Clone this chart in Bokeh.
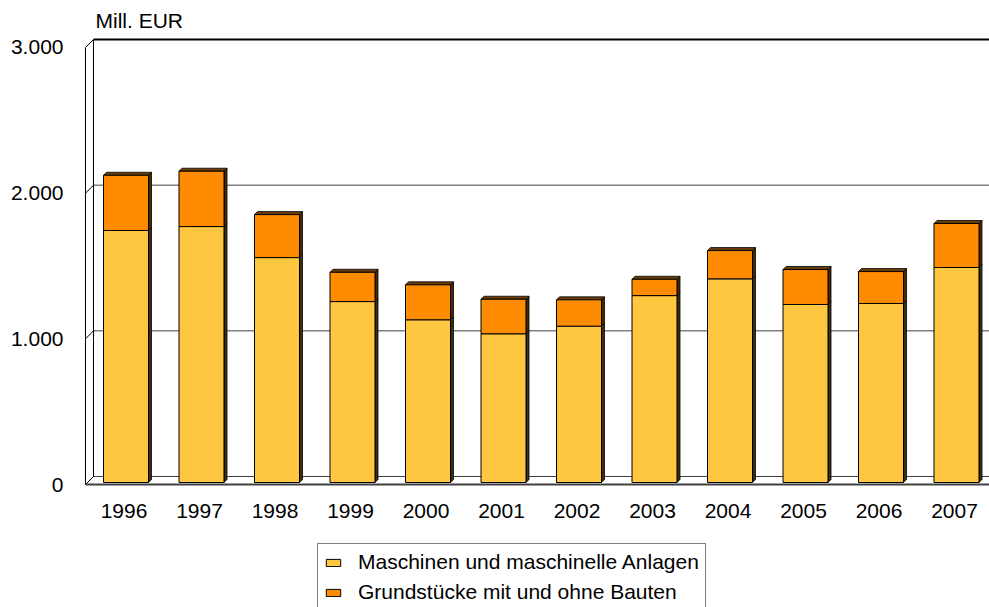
from bokeh.plotting import figure
from bokeh.models import Range1d, FixedTicker, Legend, LegendItem, Label, ColumnDataSource
from bokeh.embed import file_html
from bokeh.resources import INLINE

# ---------------- data ----------------
years = ["1996", "1997", "1998", "1999", "2000", "2001",
         "2002", "2003", "2004", "2005", "2006", "2007"]
maschinen = [1730, 1757, 1544, 1242, 1117, 1021, 1073, 1283, 1398, 1222, 1229, 1476]
grundstuecke = [379, 380, 295, 201, 240, 237, 181, 112, 194, 240, 219, 302]
y_ticks = [0, 1000, 2000, 3000]
y_tick_labels = ["0", "1.000", "2.000", "3.000"]
unit_label = "Mill. EUR"
series_names = ["Maschinen und maschinelle Anlagen", "Grundstücke mit und ohne Bauten"]

# ---------------- layout constants ----------------
W, H = 989, 607
FL, FR, FT, FB = 85, 989, 0, 607          # frame edges (canvas px)
PPX = 75.5                                # px per category
PPY = 0.14567                             # px per unit
ZERO_Y = 484                              # canvas y of value 0 (front plane)
FIRST_X = 123.5                           # canvas x of first category (front plane)
X0 = (FL - FIRST_X) / PPX
X1 = (FR - FIRST_X) / PPX
Y0 = -(FB - ZERO_Y) / PPY
Y1 = (ZERO_Y - FT) / PPY


def dx(px):
    return px / PPX


def dy(px):
    return px / PPY


FONT = "Liberation Sans"
FS = "21px"
C_MASCH = "#FFC640"
C_GRUND = "#FF8C00"
BACK = 8      # wall depth in px
BOFF = 2      # bar offset from front plane
BD = 3        # bar depth
BW = dx(45)   # bar width

p = figure(width=W, height=H, output_backend="svg", toolbar_location=None,
           x_range=Range1d(X0, X1), y_range=Range1d(Y0, Y1),
           min_border_left=FL, min_border_right=W - FR,
           min_border_top=FT, min_border_bottom=H - FB)
p.outline_line_color = None
p.xgrid.visible = False
p.ygrid.visible = False
p.background_fill_color = "white"
p.border_fill_color = "white"

# ---------------- axes ----------------
ya = p.yaxis[0]
ya.ticker = FixedTicker(ticks=y_ticks)
ya.major_label_overrides = {t: l for t, l in zip(y_ticks, y_tick_labels)}
ya.bounds = (y_ticks[0], y_ticks[-1])
ya.axis_line_color = "black"
ya.axis_line_width = 1
ya.major_tick_line_color = None
ya.minor_tick_line_color = None
ya.major_label_standoff = 16
ya.major_label_text_font = FONT
ya.major_label_text_font_size = FS
ya.major_label_text_color = "black"

xa = p.xaxis[0]
xa.fixed_location = 0
xa.ticker = FixedTicker(ticks=list(range(len(years))))
xa.major_label_overrides = {i: y for i, y in enumerate(years)}
xa.axis_line_color = None
xa.major_tick_line_color = None
xa.minor_tick_line_color = None
xa.major_label_standoff = 13
xa.major_label_text_font = FONT
xa.major_label_text_font_size = FS
xa.major_label_text_color = "black"

# ---------------- walls ----------------
bx = X0 + dx(BACK)
by = dy(BACK)
for t in y_ticks:
    if t == y_ticks[0]:
        col, lw = "#404040", 1
    elif t == y_ticks[-1]:
        col, lw = "black", 2
    else:
        col, lw = "#808080", 1.5
    p.line([bx, X1], [t + by, t + by], line_color=col, line_width=lw)
    p.line([X0, bx], [t, t + by], line_color="black", line_width=1)
p.line([bx, bx], [y_ticks[0] + by, y_ticks[-1] + by], line_color="black", line_width=1)
p.line([X0, X1], [y_ticks[0], y_ticks[0]], line_color="#404040", line_width=2)

# ---------------- bars ----------------
n = len(years)
xc = [i + dx(BOFF) for i in range(n)]
base = dy(BOFF)
m_top = [base + m for m in maschinen]
g_top = [base + m + g for m, g in zip(maschinen, grundstuecke)]

ddx, ddy = dx(BD), dy(BD)
side_m_xs, side_m_ys, side_g_xs, side_g_ys, top_xs, top_ys = [], [], [], [], [], []
for i in range(n):
    xr = xc[i] + BW / 2
    xl = xc[i] - BW / 2
    side_m_xs.append([xr, xr + ddx, xr + ddx, xr])
    side_m_ys.append([base, base + ddy, m_top[i] + ddy, m_top[i]])
    side_g_xs.append([xr, xr + ddx, xr + ddx, xr])
    side_g_ys.append([m_top[i], m_top[i] + ddy, g_top[i] + ddy, g_top[i]])
    top_xs.append([xl, xr, xr + ddx, xl + ddx])
    top_ys.append([g_top[i], g_top[i], g_top[i] + ddy, g_top[i] + ddy])

p.patches(side_m_xs, side_m_ys, fill_color="#3a2f10", line_color="black", line_width=0.8)
p.patches(side_g_xs, side_g_ys, fill_color="#4a2800", line_color="black", line_width=0.8)
p.patches(top_xs, top_ys, fill_color="#6b3d0a", line_color="black", line_width=0.8)

src = ColumnDataSource(dict(x=xc, base=[base] * n, m_top=m_top, g_top=g_top))
r_m = p.vbar(x="x", bottom="base", top="m_top", width=BW, source=src,
             fill_color=C_MASCH, line_color="black", line_width=1)
r_g = p.vbar(x="x", bottom="m_top", top="g_top", width=BW, source=src,
             fill_color=C_GRUND, line_color="black", line_width=1)

# ---------------- unit label ----------------
p.add_layout(Label(x=X0 + dx(10), y=(ZERO_Y - 20) / PPY, text=unit_label,
                   text_font=FONT, text_font_size=FS, text_baseline="middle",
                   text_color="black"))

# ---------------- legend ----------------
legend = Legend(items=[LegendItem(label=series_names[0], renderers=[r_m]),
                       LegendItem(label=series_names[1], renderers=[r_g])],
                location=(232, -4),
                orientation="vertical",
                border_line_color="black", border_line_width=1,
                background_fill_color="white", background_fill_alpha=1,
                padding=6, spacing=6, margin=0, label_height=24,
                glyph_width=18, glyph_height=9, label_standoff=16,
                label_text_font=FONT, label_text_font_size=FS,
                label_text_color="black")
p.add_layout(legend, "center")

open("out.html", "w").write(file_html(p, INLINE))
